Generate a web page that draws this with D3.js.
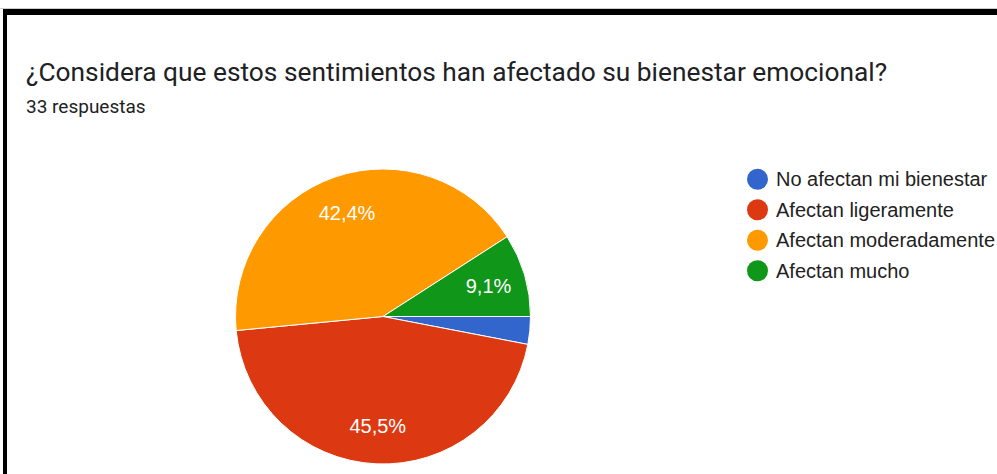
<!DOCTYPE html>
<html><head><meta charset="utf-8">
<script src="https://cdn.jsdelivr.net/npm/d3@7"></script>
<style>
html,body{margin:0;padding:0;background:#fff;}
svg{display:block;}
</style></head>
<body>
<svg id="chart" width="997" height="474"></svg>
<script>
const title = "¿Considera que estos sentimientos han afectado su bienestar emocional?";
const subtitle = "33 respuestas";
const categories = ["No afectan mi bienestar", "Afectan ligeramente", "Afectan moderadamente", "Afectan mucho"];
const counts = [1, 15, 14, 3];
const percentLabels = ["", "45,5%", "42,4%", "9,1%"];
const colors = ["#3366cc", "#dc3912", "#ff9900", "#109618"];

const svg = d3.select("#chart");
// frame
svg.append("rect").attr("x", 0).attr("y", 0).attr("width", 997).attr("height", 474).attr("fill", "#fff");
svg.append("line").attr("x1", 0).attr("x2", 997).attr("y1", 8.5).attr("y2", 8.5).attr("stroke", "#ccc");
svg.append("rect").attr("x", 3).attr("y", 9).attr("width", 994).attr("height", 6).attr("fill", "#000");
svg.append("rect").attr("x", 3).attr("y", 9).attr("width", 4).attr("height", 465).attr("fill", "#000");

svg.append("text").attr("x", 26).attr("y", 81)
  .attr("font-family", "Roboto").attr("font-size", 26.3).attr("fill", "#202124").text(title);
svg.append("text").attr("x", 26).attr("y", 112.5)
  .attr("font-family", "Roboto").attr("font-size", 19).attr("fill", "#202124").text(subtitle);

const cx = 383, cy = 316.5, r = 147.5;
const pie = d3.pie().value(d => d).sort(null).startAngle(Math.PI / 2).endAngle(Math.PI / 2 + 2 * Math.PI);
const arcs = pie(counts);
const arc = d3.arc().innerRadius(0).outerRadius(r);
const labelArc = d3.arc().innerRadius(110).outerRadius(110);
const g = svg.append("g").attr("transform", `translate(${cx},${cy})`);
g.selectAll("path").data(arcs).join("path")
  .attr("d", arc).attr("fill", (d, i) => colors[i])
  .attr("stroke", "#fff").attr("stroke-width", 1);
g.selectAll("text.lbl").data(arcs).join("text").attr("class", "lbl")
  .attr("transform", d => `translate(${labelArc.centroid(d)})`)
  .attr("text-anchor", "middle").attr("dominant-baseline", "central")
  .attr("font-family", "Liberation Sans, Arial").attr("font-size", 20).attr("fill", "#fff")
  .text((d, i) => percentLabels[i]);

const legendY = d3.scaleBand().domain(categories).range([164, 286]);
const lg = svg.append("g");
const items = lg.selectAll("g").data(categories).join("g")
  .attr("transform", d => `translate(0,${legendY(d) + legendY.bandwidth() / 2})`);
items.append("circle").attr("cx", 757.5).attr("cy", 0).attr("r", 10.5).attr("fill", (d, i) => colors[i]);
items.append("text").attr("x", 776).attr("y", 0).attr("dominant-baseline", "central")
  .attr("font-family", "Liberation Sans, Arial").attr("font-size", 20).attr("fill", "#222").text(d => d);
</script>
</body></html>
